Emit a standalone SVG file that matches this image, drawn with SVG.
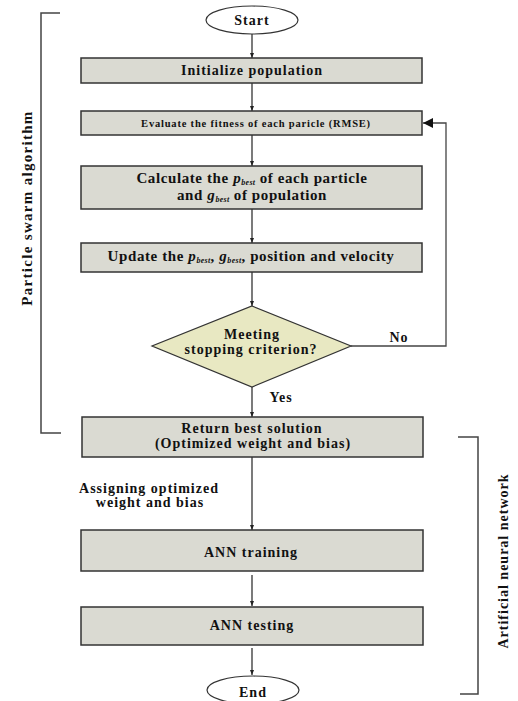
<svg xmlns="http://www.w3.org/2000/svg" width="518" height="701" viewBox="0 0 518 701">
<defs>
<marker id="ah" viewBox="0 0 10 10" refX="10" refY="5" markerWidth="5" markerHeight="5" orient="auto" markerUnits="userSpaceOnUse"><path d="M0,1 L10,5 L0,9 Z" fill="#222"/></marker>
<marker id="ahb" viewBox="0 0 10 10" refX="10" refY="5" markerWidth="11" markerHeight="10" orient="auto" markerUnits="userSpaceOnUse"><path d="M0,0 L10,5 L0,10 Z" fill="#111"/></marker>
</defs>
<style>
text{font-family:"Liberation Serif","Times New Roman",serif;font-weight:bold;fill:#111;text-anchor:middle}
.box{fill:#dadad2;stroke:#333;stroke-width:1.5}
.term{fill:#fff;stroke:#333;stroke-width:1.2}
.dia{fill:#e8e8c2;stroke:#333;stroke-width:1.2}
.ln{fill:none;stroke:#222;stroke-width:1.2}
.br{fill:none;stroke:#444;stroke-width:1.5}
.t14{font-size:14px;letter-spacing:1px}
.t15{font-size:15px;letter-spacing:0.6px}
.sub{font-size:8px;font-style:italic;letter-spacing:0.3px}
.it{font-style:italic}
</style>
<g id="connectors">
<line class="ln" x1="252" y1="34" x2="252" y2="58" marker-end="url(#ah)"/>
<line class="ln" x1="252" y1="83" x2="252" y2="111" marker-end="url(#ah)"/>
<line class="ln" x1="252" y1="135" x2="252" y2="166" marker-end="url(#ah)"/>
<line class="ln" x1="252" y1="209" x2="252" y2="243" marker-end="url(#ah)"/>
<line class="ln" x1="252" y1="272" x2="252" y2="306" marker-end="url(#ah)"/>
<line class="ln" x1="252" y1="387" x2="252" y2="417" marker-end="url(#ah)"/>
<polyline points="351,346 446,346 446,123 423,123" fill="none" stroke="#444" stroke-width="1.3" marker-end="url(#ahb)"/>
<line class="ln" x1="252" y1="457" x2="252" y2="530" marker-end="url(#ah)"/>
<line class="ln" x1="252" y1="575" x2="252" y2="606" marker-end="url(#ah)"/>
<line class="ln" x1="252" y1="648" x2="252" y2="675" marker-end="url(#ah)"/>
<text class="t14" x="399" y="342">No</text>
<text class="t14" x="281" y="402">Yes</text>
<text class="t14" x="149" y="493">Assigning optimized</text>
<text class="t14" x="150" y="507">weight and bias</text>
</g>
<g id="brackets">
<polyline class="br" points="60,13 41,13 41,433 61,433"/>
<text transform="translate(32,208) rotate(-90)" style="font-size:15px;letter-spacing:1.3px">Particle swarm algorithm</text>
<polyline class="br" points="458,437 478,437 478,694 460,694"/>
<text class="t14" transform="translate(508,561) rotate(-90)">Artificial neural network</text>
</g>
<g id="start">
<ellipse class="term" cx="252" cy="20" rx="46" ry="14"/>
<text class="t14" x="252" y="25">Start</text>
</g>
<g id="init">
<rect class="box" x="81" y="58" width="341" height="25"/>
<text class="t14" x="252" y="75">Initialize population</text>
</g>
<g id="evaluate">
<rect class="box" x="81" y="111" width="341" height="24"/>
<text x="256" y="127" style="font-size:10.5px;letter-spacing:0.8px">Evaluate the fitness of each paricle (RMSE)</text>
</g>
<g id="calculate">
<rect class="box" x="81" y="166" width="341" height="43"/>
<text class="t15" x="252" y="183">Calculate the <tspan class="it">p</tspan><tspan class="sub" dy="2">best</tspan><tspan dy="-2"> of each particle</tspan></text>
<text class="t15" x="252" y="200">and <tspan class="it">g</tspan><tspan class="sub" dy="2">best</tspan><tspan dy="-2"> of population</tspan></text>
</g>
<g id="update">
<rect class="box" x="81" y="243" width="341" height="29"/>
<text class="t15" x="251" y="261">Update the <tspan class="it">p</tspan><tspan class="sub" dy="2">best</tspan><tspan dy="-2">, </tspan><tspan class="it">g</tspan><tspan class="sub" dy="2">best</tspan><tspan dy="-2">, position and velocity</tspan></text>
</g>
<g id="decision">
<polygon class="dia" points="252,306 351,346 252,387 152,346"/>
<text class="t14" x="252" y="339">Meeting</text>
<text class="t14" x="251" y="354">stopping criterion?</text>
</g>
<g id="return">
<rect class="box" x="82" y="417" width="341" height="40"/>
<text class="t14" x="252" y="433">Return best solution</text>
<text class="t14" x="253" y="448">(Optimized weight and bias)</text>
</g>
<g id="training">
<rect class="box" x="81" y="530" width="342" height="41"/>
<text class="t14" x="251" y="557">ANN training</text>
</g>
<g id="testing">
<rect class="box" x="81" y="607" width="342" height="38"/>
<text class="t14" x="252" y="630">ANN testing</text>
</g>
<g id="end">
<ellipse class="term" cx="253" cy="690" rx="46" ry="14"/>
<text class="t14" x="253" y="697">End</text>
</g>
</svg>
